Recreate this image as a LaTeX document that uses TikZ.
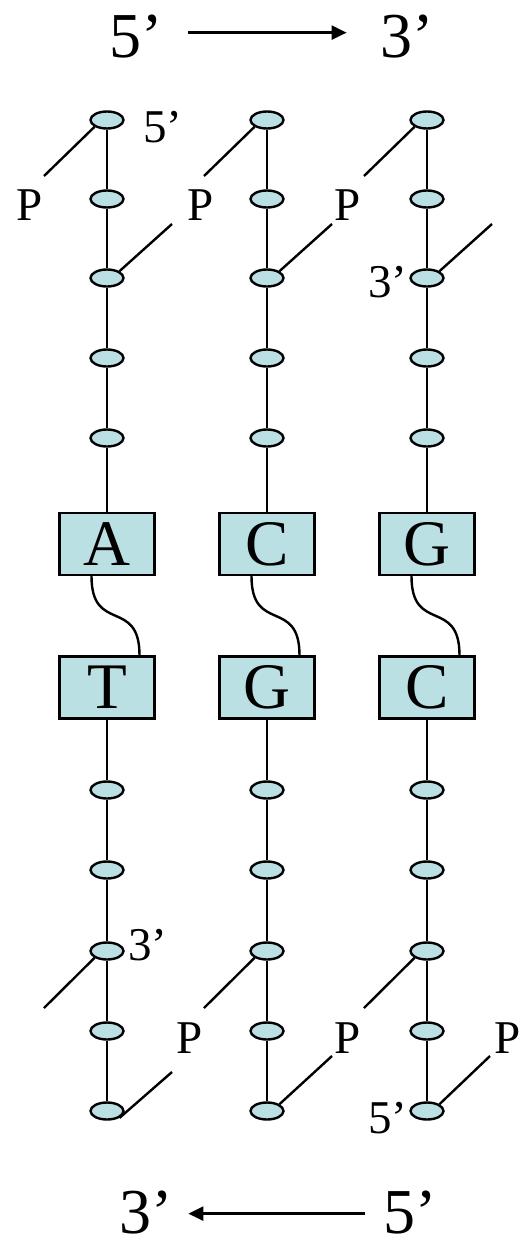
\documentclass[tikz,border=0pt]{standalone}
\usepackage{fontspec}
\setmainfont{Liberation Serif}
\usetikzlibrary{shapes.geometric,arrows.meta}
\definecolor{beadfill}{RGB}{187,224,227}
\begin{document}
\begin{tikzpicture}[x=1pt,y=-1pt,
  bead/.style={ellipse,draw,fill=beadfill,line width=2.4pt,minimum width=33pt,minimum height=17pt,inner sep=0pt},
  basebox/.style={rectangle,draw,fill=beadfill,line width=2.4pt,minimum width=95pt,minimum height=62pt,inner sep=0pt,font=\fontsize{65}{65}\selectfont},
  lbl/.style={anchor=base,inner sep=0pt,font=\fontsize{47}{47}\selectfont},
  big/.style={anchor=base,inner sep=0pt,font=\fontsize{64}{64}\selectfont},
  bond/.style={line width=2.4pt},
  arr/.style={line width=2.4pt,-{Triangle[length=15pt,width=14pt]}}
  ]
\useasboundingbox (0,0) rectangle (524,1245);
% headers
\node[big] (h5) at (136,57) {5’};
\node[big] (h3) at (407,57) {3’};
\draw[arr] ([xshift=25.5pt,yshift=3.4pt]h5.east) -- ([xshift=-33.5pt,yshift=3.4pt]h3.west);
\node[big] (f3) at (146,1233) {3’};
\node[big] (f5) at (410,1233) {5’};
\draw[arr] ([xshift=-18.5pt,yshift=-1.6pt]f5.west) -- ([xshift=15.5pt,yshift=-1.6pt]f3.east);
% columns
\foreach \c/\x/\up/\lo in {1/107/A/T,2/267/C/G,3/427/G/C}{
  \foreach \i/\y in {1/120,2/199,3/278,4/358,5/438}
    \node[bead] (t\c-\i) at (\x,\y) {};
  \foreach \i/\y in {1/790,2/870,3/951,4/1031,5/1111}
    \node[bead] (b\c-\i) at (\x,\y) {};
  \node[basebox] (u\c) at (\x,544) {\up};
  \node[basebox] (l\c) at (\x,687.5) {\lo};
  \draw[bond] (t\c-1) -- (t\c-2) -- (t\c-3) -- (t\c-4) -- (t\c-5) -- (u\c);
  \draw[bond] (l\c) -- (b\c-1) -- (b\c-2) -- (b\c-3) -- (b\c-4) -- (b\c-5);
  \draw[bond] ([xshift=-15.5pt]u\c.south) to[out=-90,in=90,looseness=1.6] ([xshift=32.5pt]l\c.north);
  \coordinate (pa\c) at (\x-63,176);
  \coordinate (pb\c) at (\x+65,224);
  \coordinate (pc\c) at (\x-63,1008);
  \draw[bond] (t\c-1.south west) -- (pa\c);
  \draw[bond] (t\c-3.north east) -- (pb\c);
  \draw[bond] (b\c-3.south west) -- (pc\c);
}
\coordinate (pd1) at (172,1072);
\coordinate (pd2) at (332,1056);
\coordinate (pd3) at (490,1056);
\draw[bond] (b1-5.south east) -- (pd1);
\draw[bond] (b2-5.north east) -- (pd2);
\draw[bond] (b3-5.north east) -- (pd3);
% labels
\node[lbl] (l5top) at (163,142) {5’};
\node[lbl] (pt1) at (30,220) {P};
\node[lbl] (pt2) at (201,220) {P};
\node[lbl] (pt3) at (348,220) {P};
\node[lbl] (l3top) at (388,297) {3’};
\node[lbl] (l3bot) at (148,960) {3’};
\node[lbl] (pb1l) at (190,1053) {P};
\node[lbl] (pb2l) at (348,1053) {P};
\node[lbl] (pb3l) at (508,1053) {P};
\node[lbl] (l5bot) at (388,1133) {5’};
\end{tikzpicture}
\end{document}
